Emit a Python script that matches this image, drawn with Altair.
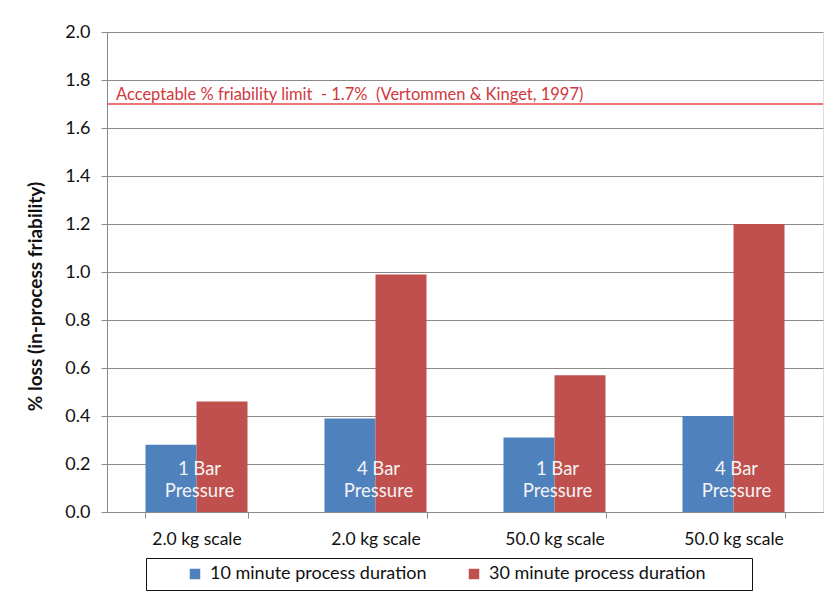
import altair as alt
import pandas as pd

# ---- data ----
categories = ["2.0 kg scale|1", "2.0 kg scale|2", "50.0 kg scale|1", "50.0 kg scale|2"]
series = ["10 minute process duration", "30 minute process duration"]
values_10min = [0.28, 0.39, 0.31, 0.40]
values_30min = [0.46, 0.99, 0.57, 1.20]
pressure_labels = ["1 Bar\nPressure", "4 Bar\nPressure", "1 Bar\nPressure", "4 Bar\nPressure"]
limit_value = [1.7]
limit_text = ["Acceptable % friability limit \u00a0- 1.7% \u00a0(Vertommen & Kinget, 1997)"]
y_ticks = [0.0, 0.2, 0.4, 0.6, 0.8, 1.0, 1.2, 1.4, 1.6, 1.8, 2.0]
colors = ["#4F81BD", "#C0504D"]

FONT = "Lato"

rows = []
for c, v in zip(categories, values_10min):
    rows.append({"cat": c, "series": series[0], "value": v})
for c, v in zip(categories, values_30min):
    rows.append({"cat": c, "series": series[1], "value": v})
bars_df = pd.DataFrame(rows)
labels_df = pd.DataFrame({"cat": categories, "label": pressure_labels})
limit_df = pd.DataFrame({"limit": limit_value, "text": limit_text})

x_scale = alt.Scale(domain=categories, paddingInner=0.43, paddingOuter=0.215)
y_scale = alt.Scale(domain=[0, 2], nice=False, zero=True)

x_axis = alt.Axis(
    title=None,
    labelExpr="split(datum.label, '|')[0]",
    labelFont=FONT, labelFontSize=17.5, labelColor="#111111",
    labelPadding=12, labelAngle=0,
    tickBand="extent", tickSize=6, tickColor="#8a8a8a",
    domainColor="#8a8a8a", grid=False,
)
y_axis = alt.Axis(
    title="% loss (in-process friability)",
    titleFont=FONT, titleFontSize=19, titleFontWeight="bold", titleColor="#111111",
    titleX=-72, titleY=264, titleAngle=-90, titleAlign="center", titleBaseline="middle",
    values=y_ticks, format=".1f",
    labelFont=FONT, labelFontSize=18, labelColor="#111111", labelPadding=11,
    tickSize=6, tickColor="#8a8a8a", domainColor="#8a8a8a",
    grid=True, gridColor="#8a8a8a", gridWidth=1,
)

# trailing blank (non-whitespace) glyphs widen the legend frame on the right
pad_expr = ("indexof(datum.label, '30') == 0 ? datum.label + "
            "'\u2800\u2800\u2800' : datum.label")

bars = alt.Chart(bars_df).mark_bar().encode(
    x=alt.X("cat:N", scale=x_scale, axis=x_axis, sort=categories),
    xOffset=alt.XOffset("series:N", scale=alt.Scale(domain=series, paddingInner=0, paddingOuter=0)),
    y=alt.Y("value:Q", scale=y_scale, axis=y_axis),
    color=alt.Color(
        "series:N",
        scale=alt.Scale(domain=series, range=colors),
        legend=alt.Legend(
            title=None, orient="none", direction="horizontal",
            legendX=39, legendY=526,
            strokeColor="#111111", fillColor="white", padding=7,
            symbolType="square", symbolSize=110, symbolStrokeWidth=0,
            symbolOffset=33, labelOffset=6,
            labelFont=FONT, labelFontSize=18, labelColor="#111111",
            labelExpr=pad_expr,
            columnPadding=5, labelLimit=400,
        ),
    ),
)

bar_text = alt.Chart(labels_df).mark_text(
    color="#F4F4F4", font=FONT, fontSize=18.5, lineBreak="\n", lineHeight=22,
    baseline="middle", align="center", dx=3,
).encode(
    x=alt.X("cat:N", scale=x_scale, sort=categories),
    y=alt.datum(0.1775),
    text="label:N",
)

limit_rule = alt.Chart(limit_df).mark_rule(color="#E5484D", strokeWidth=1.5).encode(
    y=alt.Y("limit:Q", scale=y_scale),
)
limit_label = alt.Chart(limit_df).mark_text(
    color="#D0383E", font=FONT, fontSize=16.5, align="left", baseline="alphabetic", dy=-4,
).encode(
    x=alt.value(9),
    y=alt.Y("limit:Q", scale=y_scale),
    text="text:N",
)

chart = alt.layer(bars, bar_text, limit_rule, limit_label).properties(
    width=716, height=480,
    autosize=alt.AutoSizeParams(type="none"),
    padding={"left": 99, "top": 24, "right": 7, "bottom": 79},
).configure_view(stroke=None).configure(background="white")

chart.save("out.html", embed_options={"renderer": "svg", "actions": False})
